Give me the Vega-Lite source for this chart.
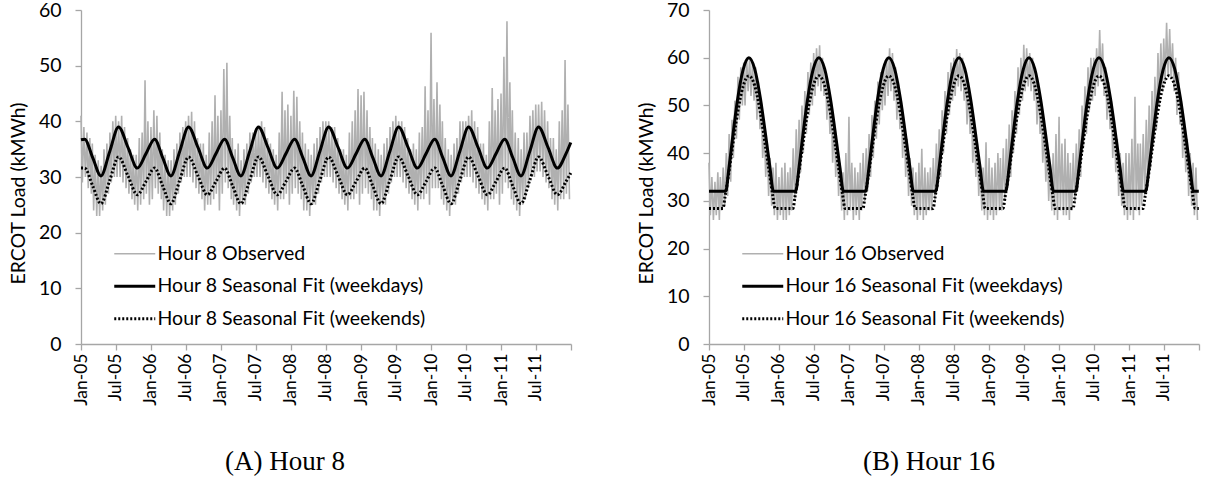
{
"$schema":"https://vega.github.io/schema/vega-lite/v6.json",
"background":"white",
"padding":{"left":8,"top":0,"right":0,"bottom":0},
"spacing":59,
"config":{
"view":{"stroke":null},
"font":"Lato",
"axis":{"grid":false,"domainColor":"#a6a6a6","tickColor":"#a6a6a6","domainWidth":1.3,"tickWidth":1.3,"labelFont":"Lato","labelFontSize":19.5,"labelColor":"#000","titleFont":"Lato","titleFontSize":19.5,"titleFontWeight":"normal","titleColor":"#000"},
"legend":{"labelFont":"Lato","labelFontSize":19.5,"labelColor":"#000","labelLimit":0},
"title":{"font":"Liberation Serif","fontSize":27,"fontWeight":"normal","color":"#000"}
},
"resolve":{"scale":{"color":"independent"}},
"datasets":{
"o8":[
{"d":"2005-01-01","v":41},{"d":"2005-01-08","v":29},{"d":"2005-01-16","v":39},{"d":"2005-01-24","v":30},
{"d":"2005-02-01","v":38},{"d":"2005-02-08","v":28},{"d":"2005-02-16","v":37},{"d":"2005-02-24","v":27},
{"d":"2005-03-01","v":36},{"d":"2005-03-08","v":24},{"d":"2005-03-16","v":34},{"d":"2005-03-24","v":23},
{"d":"2005-04-01","v":33},{"d":"2005-04-08","v":23},{"d":"2005-04-16","v":32},{"d":"2005-04-24","v":24},
{"d":"2005-05-01","v":35},{"d":"2005-05-08","v":25},{"d":"2005-05-16","v":36},{"d":"2005-05-24","v":27},
{"d":"2005-06-01","v":38},{"d":"2005-06-08","v":29},{"d":"2005-06-16","v":40},{"d":"2005-06-24","v":30},
{"d":"2005-07-01","v":41},{"d":"2005-07-08","v":30},{"d":"2005-07-16","v":40},{"d":"2005-07-24","v":30},
{"d":"2005-08-01","v":41},{"d":"2005-08-08","v":29},{"d":"2005-08-16","v":39},{"d":"2005-08-24","v":28},
{"d":"2005-09-01","v":37},{"d":"2005-09-08","v":27},{"d":"2005-09-16","v":35},{"d":"2005-09-24","v":26},
{"d":"2005-10-01","v":34},{"d":"2005-10-08","v":25},{"d":"2005-10-16","v":34},{"d":"2005-10-24","v":24},
{"d":"2005-11-01","v":37},{"d":"2005-11-08","v":25},{"d":"2005-11-16","v":38},{"d":"2005-11-24","v":26},
{"d":"2005-12-01","v":47.4},{"d":"2005-12-08","v":27},{"d":"2005-12-16","v":40},{"d":"2005-12-24","v":25},
{"d":"2006-01-01","v":39},{"d":"2006-01-08","v":26},{"d":"2006-01-16","v":42},{"d":"2006-01-24","v":28},
{"d":"2006-02-01","v":41},{"d":"2006-02-08","v":27},{"d":"2006-02-16","v":38},{"d":"2006-02-24","v":26},
{"d":"2006-03-01","v":35},{"d":"2006-03-08","v":24},{"d":"2006-03-16","v":34},{"d":"2006-03-24","v":23},
{"d":"2006-04-01","v":33},{"d":"2006-04-08","v":23},{"d":"2006-04-16","v":33},{"d":"2006-04-24","v":24},
{"d":"2006-05-01","v":35},{"d":"2006-05-08","v":25},{"d":"2006-05-16","v":36},{"d":"2006-05-24","v":27},
{"d":"2006-06-01","v":38},{"d":"2006-06-08","v":29},{"d":"2006-06-16","v":39},{"d":"2006-06-24","v":30},
{"d":"2006-07-01","v":40},{"d":"2006-07-08","v":30},{"d":"2006-07-16","v":41},{"d":"2006-07-24","v":30},
{"d":"2006-08-01","v":41.7},{"d":"2006-08-08","v":29},{"d":"2006-08-16","v":40},{"d":"2006-08-24","v":28},
{"d":"2006-09-01","v":37},{"d":"2006-09-08","v":27},{"d":"2006-09-16","v":36},{"d":"2006-09-24","v":26},
{"d":"2006-10-01","v":36},{"d":"2006-10-08","v":24},{"d":"2006-10-16","v":34},{"d":"2006-10-24","v":25},
{"d":"2006-11-01","v":38},{"d":"2006-11-08","v":25},{"d":"2006-11-16","v":40},{"d":"2006-11-24","v":26},
{"d":"2006-12-01","v":44.7},{"d":"2006-12-08","v":27},{"d":"2006-12-16","v":41},{"d":"2006-12-24","v":24},
{"d":"2007-01-01","v":42},{"d":"2007-01-08","v":27},{"d":"2007-01-16","v":49.4},{"d":"2007-01-24","v":29},
{"d":"2007-02-01","v":50.5},{"d":"2007-02-08","v":28},{"d":"2007-02-16","v":41},{"d":"2007-02-24","v":26},
{"d":"2007-03-01","v":37},{"d":"2007-03-08","v":25},{"d":"2007-03-16","v":35},{"d":"2007-03-24","v":24},
{"d":"2007-04-01","v":36},{"d":"2007-04-08","v":23},{"d":"2007-04-16","v":33},{"d":"2007-04-24","v":25},
{"d":"2007-05-01","v":35},{"d":"2007-05-08","v":25},{"d":"2007-05-16","v":36},{"d":"2007-05-24","v":27},
{"d":"2007-06-01","v":38},{"d":"2007-06-08","v":29},{"d":"2007-06-16","v":38},{"d":"2007-06-24","v":30},
{"d":"2007-07-01","v":38},{"d":"2007-07-08","v":30},{"d":"2007-07-16","v":39},{"d":"2007-07-24","v":30},
{"d":"2007-08-01","v":40},{"d":"2007-08-08","v":29},{"d":"2007-08-16","v":39},{"d":"2007-08-24","v":28},
{"d":"2007-09-01","v":37},{"d":"2007-09-08","v":27},{"d":"2007-09-16","v":36},{"d":"2007-09-24","v":26},
{"d":"2007-10-01","v":35},{"d":"2007-10-08","v":25},{"d":"2007-10-16","v":34},{"d":"2007-10-24","v":24},
{"d":"2007-11-01","v":38},{"d":"2007-11-08","v":26},{"d":"2007-11-16","v":45.3},{"d":"2007-11-24","v":26},
{"d":"2007-12-01","v":42},{"d":"2007-12-08","v":27},{"d":"2007-12-16","v":43},{"d":"2007-12-24","v":25},
{"d":"2008-01-01","v":41},{"d":"2008-01-08","v":27},{"d":"2008-01-16","v":45.5},{"d":"2008-01-24","v":28},
{"d":"2008-02-01","v":44.4},{"d":"2008-02-08","v":27},{"d":"2008-02-16","v":40},{"d":"2008-02-24","v":26},
{"d":"2008-03-01","v":38},{"d":"2008-03-08","v":24},{"d":"2008-03-16","v":36},{"d":"2008-03-24","v":24},
{"d":"2008-04-01","v":35},{"d":"2008-04-08","v":23},{"d":"2008-04-16","v":34},{"d":"2008-04-24","v":25},
{"d":"2008-05-01","v":36},{"d":"2008-05-08","v":25},{"d":"2008-05-16","v":37},{"d":"2008-05-24","v":27},
{"d":"2008-06-01","v":39},{"d":"2008-06-08","v":29},{"d":"2008-06-16","v":40},{"d":"2008-06-24","v":30},
{"d":"2008-07-01","v":40},{"d":"2008-07-08","v":30},{"d":"2008-07-16","v":40},{"d":"2008-07-24","v":30},
{"d":"2008-08-01","v":39},{"d":"2008-08-08","v":29},{"d":"2008-08-16","v":39},{"d":"2008-08-24","v":28},
{"d":"2008-09-01","v":37},{"d":"2008-09-08","v":27},{"d":"2008-09-16","v":35},{"d":"2008-09-24","v":26},
{"d":"2008-10-01","v":35},{"d":"2008-10-08","v":25},{"d":"2008-10-16","v":34},{"d":"2008-10-24","v":24},
{"d":"2008-11-01","v":38},{"d":"2008-11-08","v":26},{"d":"2008-11-16","v":40},{"d":"2008-11-24","v":26},
{"d":"2008-12-01","v":42},{"d":"2008-12-08","v":27},{"d":"2008-12-16","v":45.8},{"d":"2008-12-24","v":25},
{"d":"2009-01-01","v":44.7},{"d":"2009-01-08","v":27},{"d":"2009-01-16","v":45.3},{"d":"2009-01-24","v":28},
{"d":"2009-02-01","v":42},{"d":"2009-02-08","v":27},{"d":"2009-02-16","v":39},{"d":"2009-02-24","v":26},
{"d":"2009-03-01","v":37},{"d":"2009-03-08","v":24},{"d":"2009-03-16","v":36},{"d":"2009-03-24","v":24},
{"d":"2009-04-01","v":35},{"d":"2009-04-08","v":23},{"d":"2009-04-16","v":34},{"d":"2009-04-24","v":25},
{"d":"2009-05-01","v":36},{"d":"2009-05-08","v":25},{"d":"2009-05-16","v":37},{"d":"2009-05-24","v":27},
{"d":"2009-06-01","v":39},{"d":"2009-06-08","v":29},{"d":"2009-06-16","v":40},{"d":"2009-06-24","v":30},
{"d":"2009-07-01","v":41},{"d":"2009-07-08","v":30},{"d":"2009-07-16","v":40},{"d":"2009-07-24","v":30},
{"d":"2009-08-01","v":40},{"d":"2009-08-08","v":29},{"d":"2009-08-16","v":39},{"d":"2009-08-24","v":28},
{"d":"2009-09-01","v":37},{"d":"2009-09-08","v":27},{"d":"2009-09-16","v":35},{"d":"2009-09-24","v":26},
{"d":"2009-10-01","v":36},{"d":"2009-10-08","v":25},{"d":"2009-10-16","v":35},{"d":"2009-10-24","v":24},
{"d":"2009-11-01","v":38},{"d":"2009-11-08","v":26},{"d":"2009-11-16","v":39},{"d":"2009-11-24","v":26},
{"d":"2009-12-01","v":46.3},{"d":"2009-12-08","v":27},{"d":"2009-12-16","v":42},{"d":"2009-12-24","v":25},
{"d":"2010-01-01","v":55.9},{"d":"2010-01-08","v":28},{"d":"2010-01-16","v":44},{"d":"2010-01-24","v":28},
{"d":"2010-02-01","v":47},{"d":"2010-02-08","v":28},{"d":"2010-02-16","v":43},{"d":"2010-02-24","v":26},
{"d":"2010-03-01","v":40},{"d":"2010-03-08","v":25},{"d":"2010-03-16","v":37},{"d":"2010-03-24","v":24},
{"d":"2010-04-01","v":35},{"d":"2010-04-08","v":23},{"d":"2010-04-16","v":34},{"d":"2010-04-24","v":25},
{"d":"2010-05-01","v":36},{"d":"2010-05-08","v":25},{"d":"2010-05-16","v":37},{"d":"2010-05-24","v":27},
{"d":"2010-06-01","v":40},{"d":"2010-06-08","v":29},{"d":"2010-06-16","v":40},{"d":"2010-06-24","v":30},
{"d":"2010-07-01","v":40},{"d":"2010-07-08","v":30},{"d":"2010-07-16","v":41},{"d":"2010-07-24","v":30},
{"d":"2010-08-01","v":42},{"d":"2010-08-08","v":29},{"d":"2010-08-16","v":40},{"d":"2010-08-24","v":28},
{"d":"2010-09-01","v":39},{"d":"2010-09-08","v":27},{"d":"2010-09-16","v":36},{"d":"2010-09-24","v":26},
{"d":"2010-10-01","v":36},{"d":"2010-10-08","v":25},{"d":"2010-10-16","v":34},{"d":"2010-10-24","v":24},
{"d":"2010-11-01","v":40},{"d":"2010-11-08","v":26},{"d":"2010-11-16","v":46},{"d":"2010-11-24","v":26},
{"d":"2010-12-01","v":42},{"d":"2010-12-08","v":27},{"d":"2010-12-16","v":44},{"d":"2010-12-24","v":25},
{"d":"2011-01-01","v":45},{"d":"2011-01-08","v":27},{"d":"2011-01-16","v":51.6},{"d":"2011-01-24","v":29},
{"d":"2011-02-01","v":58},{"d":"2011-02-08","v":28},{"d":"2011-02-16","v":47},{"d":"2011-02-24","v":26},
{"d":"2011-03-01","v":42},{"d":"2011-03-08","v":25},{"d":"2011-03-16","v":38},{"d":"2011-03-24","v":24},
{"d":"2011-04-01","v":37},{"d":"2011-04-08","v":23},{"d":"2011-04-16","v":35},{"d":"2011-04-24","v":25},
{"d":"2011-05-01","v":38},{"d":"2011-05-08","v":26},{"d":"2011-05-16","v":38},{"d":"2011-05-24","v":28},
{"d":"2011-06-01","v":41},{"d":"2011-06-08","v":30},{"d":"2011-06-16","v":42},{"d":"2011-06-24","v":30},
{"d":"2011-07-01","v":43},{"d":"2011-07-08","v":31},{"d":"2011-07-16","v":43},{"d":"2011-07-24","v":31},
{"d":"2011-08-01","v":43.5},{"d":"2011-08-08","v":30},{"d":"2011-08-16","v":42},{"d":"2011-08-24","v":29},
{"d":"2011-09-01","v":40},{"d":"2011-09-08","v":28},{"d":"2011-09-16","v":37},{"d":"2011-09-24","v":26},
{"d":"2011-10-01","v":37},{"d":"2011-10-08","v":25},{"d":"2011-10-16","v":35},{"d":"2011-10-24","v":24},
{"d":"2011-11-01","v":40},{"d":"2011-11-08","v":26},{"d":"2011-11-16","v":42},{"d":"2011-11-24","v":26},
{"d":"2011-12-01","v":51},{"d":"2011-12-08","v":27},{"d":"2011-12-16","v":43},{"d":"2011-12-24","v":26}
],
"w8":[
{"d":"2005-01-01","v":36.7},
{"d":"2005-01-20","v":36.8},{"d":"2005-03-03","v":33.5},{"d":"2005-04-15","v":30.2},{"d":"2005-05-31","v":34.6},{"d":"2005-07-16","v":39},{"d":"2005-09-03","v":35.3},{"d":"2005-10-22","v":31.6},{"d":"2005-12-06","v":34.2},
{"d":"2006-01-20","v":36.8},{"d":"2006-03-03","v":33.5},{"d":"2006-04-15","v":30.2},{"d":"2006-05-31","v":34.6},{"d":"2006-07-16","v":39},{"d":"2006-09-03","v":35.3},{"d":"2006-10-22","v":31.6},{"d":"2006-12-06","v":34.2},
{"d":"2007-01-20","v":36.8},{"d":"2007-03-03","v":33.5},{"d":"2007-04-15","v":30.2},{"d":"2007-05-31","v":34.6},{"d":"2007-07-16","v":39},{"d":"2007-09-03","v":35.3},{"d":"2007-10-22","v":31.6},{"d":"2007-12-06","v":34.2},
{"d":"2008-01-20","v":36.8},{"d":"2008-03-03","v":33.5},{"d":"2008-04-15","v":30.2},{"d":"2008-05-31","v":34.6},{"d":"2008-07-16","v":39},{"d":"2008-09-03","v":35.3},{"d":"2008-10-22","v":31.6},{"d":"2008-12-06","v":34.2},
{"d":"2009-01-20","v":36.8},{"d":"2009-03-03","v":33.5},{"d":"2009-04-15","v":30.2},{"d":"2009-05-31","v":34.6},{"d":"2009-07-16","v":39},{"d":"2009-09-03","v":35.3},{"d":"2009-10-22","v":31.6},{"d":"2009-12-06","v":34.2},
{"d":"2010-01-20","v":36.8},{"d":"2010-03-03","v":33.5},{"d":"2010-04-15","v":30.2},{"d":"2010-05-31","v":34.6},{"d":"2010-07-16","v":39},{"d":"2010-09-03","v":35.3},{"d":"2010-10-22","v":31.6},{"d":"2010-12-06","v":34.2},
{"d":"2011-01-20","v":36.8},{"d":"2011-03-03","v":33.5},{"d":"2011-04-15","v":30.2},{"d":"2011-05-31","v":34.6},{"d":"2011-07-16","v":39},{"d":"2011-09-03","v":35.3},{"d":"2011-10-22","v":31.6},{"d":"2011-12-06","v":34.2},
{"d":"2011-12-31","v":36.2}
],
"e8":[
{"d":"2005-01-01","v":31.6},
{"d":"2005-01-20","v":31.6},{"d":"2005-03-03","v":28.4},{"d":"2005-04-15","v":25.2},{"d":"2005-05-31","v":29.4},{"d":"2005-07-16","v":33.6},{"d":"2005-09-03","v":30.2},{"d":"2005-10-22","v":26.8},{"d":"2005-12-06","v":29.2},
{"d":"2006-01-20","v":31.6},{"d":"2006-03-03","v":28.4},{"d":"2006-04-15","v":25.2},{"d":"2006-05-31","v":29.4},{"d":"2006-07-16","v":33.6},{"d":"2006-09-03","v":30.2},{"d":"2006-10-22","v":26.8},{"d":"2006-12-06","v":29.2},
{"d":"2007-01-20","v":31.6},{"d":"2007-03-03","v":28.4},{"d":"2007-04-15","v":25.2},{"d":"2007-05-31","v":29.4},{"d":"2007-07-16","v":33.6},{"d":"2007-09-03","v":30.2},{"d":"2007-10-22","v":26.8},{"d":"2007-12-06","v":29.2},
{"d":"2008-01-20","v":31.6},{"d":"2008-03-03","v":28.4},{"d":"2008-04-15","v":25.2},{"d":"2008-05-31","v":29.4},{"d":"2008-07-16","v":33.6},{"d":"2008-09-03","v":30.2},{"d":"2008-10-22","v":26.8},{"d":"2008-12-06","v":29.2},
{"d":"2009-01-20","v":31.6},{"d":"2009-03-03","v":28.4},{"d":"2009-04-15","v":25.2},{"d":"2009-05-31","v":29.4},{"d":"2009-07-16","v":33.6},{"d":"2009-09-03","v":30.2},{"d":"2009-10-22","v":26.8},{"d":"2009-12-06","v":29.2},
{"d":"2010-01-20","v":31.6},{"d":"2010-03-03","v":28.4},{"d":"2010-04-15","v":25.2},{"d":"2010-05-31","v":29.4},{"d":"2010-07-16","v":33.6},{"d":"2010-09-03","v":30.2},{"d":"2010-10-22","v":26.8},{"d":"2010-12-06","v":29.2},
{"d":"2011-01-20","v":31.6},{"d":"2011-03-03","v":28.4},{"d":"2011-04-15","v":25.2},{"d":"2011-05-31","v":29.4},{"d":"2011-07-16","v":33.6},{"d":"2011-09-03","v":30.2},{"d":"2011-10-22","v":26.8},{"d":"2011-12-06","v":29.2},
{"d":"2011-12-31","v":30.7}
],
"o16":[
{"d":"2005-01-01","v":38},{"d":"2005-01-08","v":27},{"d":"2005-01-16","v":35},{"d":"2005-01-24","v":26},
{"d":"2005-02-01","v":34},{"d":"2005-02-08","v":27},{"d":"2005-02-16","v":36},{"d":"2005-02-24","v":26},
{"d":"2005-03-01","v":35},{"d":"2005-03-08","v":28},{"d":"2005-03-16","v":37},{"d":"2005-03-24","v":29},
{"d":"2005-04-01","v":40},{"d":"2005-04-08","v":31},{"d":"2005-04-16","v":44},{"d":"2005-04-24","v":34},
{"d":"2005-05-01","v":47},{"d":"2005-05-08","v":39},{"d":"2005-05-16","v":51},{"d":"2005-05-24","v":43},
{"d":"2005-06-01","v":56},{"d":"2005-06-08","v":47},{"d":"2005-06-16","v":58},{"d":"2005-06-24","v":50},
{"d":"2005-07-01","v":59},{"d":"2005-07-08","v":50},{"d":"2005-07-16","v":60},{"d":"2005-07-24","v":53},
{"d":"2005-08-01","v":60},{"d":"2005-08-08","v":52},{"d":"2005-08-16","v":59},{"d":"2005-08-24","v":51},
{"d":"2005-09-01","v":58},{"d":"2005-09-08","v":47},{"d":"2005-09-16","v":55},{"d":"2005-09-24","v":45},
{"d":"2005-10-01","v":50},{"d":"2005-10-08","v":39},{"d":"2005-10-16","v":45},{"d":"2005-10-24","v":35},
{"d":"2005-11-01","v":42},{"d":"2005-11-08","v":31},{"d":"2005-11-16","v":39},{"d":"2005-11-24","v":29},
{"d":"2005-12-01","v":37},{"d":"2005-12-08","v":27},{"d":"2005-12-16","v":38},{"d":"2005-12-24","v":26},
{"d":"2006-01-01","v":35},{"d":"2006-01-08","v":27},{"d":"2006-01-16","v":37},{"d":"2006-01-24","v":26},
{"d":"2006-02-01","v":38},{"d":"2006-02-08","v":26},{"d":"2006-02-16","v":36},{"d":"2006-02-24","v":27},
{"d":"2006-03-01","v":37},{"d":"2006-03-08","v":28},{"d":"2006-03-16","v":41},{"d":"2006-03-24","v":30},
{"d":"2006-04-01","v":45},{"d":"2006-04-08","v":33},{"d":"2006-04-16","v":47},{"d":"2006-04-24","v":36},
{"d":"2006-05-01","v":50},{"d":"2006-05-08","v":40},{"d":"2006-05-16","v":53},{"d":"2006-05-24","v":44},
{"d":"2006-06-01","v":57},{"d":"2006-06-08","v":48},{"d":"2006-06-16","v":59},{"d":"2006-06-24","v":50},
{"d":"2006-07-01","v":61},{"d":"2006-07-08","v":52},{"d":"2006-07-16","v":62},{"d":"2006-07-24","v":54},
{"d":"2006-08-01","v":62.6},{"d":"2006-08-08","v":53},{"d":"2006-08-16","v":60},{"d":"2006-08-24","v":52},
{"d":"2006-09-01","v":57},{"d":"2006-09-08","v":47},{"d":"2006-09-16","v":54},{"d":"2006-09-24","v":44},
{"d":"2006-10-01","v":50},{"d":"2006-10-08","v":38},{"d":"2006-10-16","v":47},{"d":"2006-10-24","v":35},
{"d":"2006-11-01","v":42},{"d":"2006-11-08","v":31},{"d":"2006-11-16","v":38},{"d":"2006-11-24","v":28},
{"d":"2006-12-01","v":36},{"d":"2006-12-08","v":26},{"d":"2006-12-16","v":40},{"d":"2006-12-24","v":27},
{"d":"2007-01-01","v":47.6},{"d":"2007-01-08","v":28},{"d":"2007-01-16","v":38},{"d":"2007-01-24","v":26},
{"d":"2007-02-01","v":37},{"d":"2007-02-08","v":27},{"d":"2007-02-16","v":36},{"d":"2007-02-24","v":26},
{"d":"2007-03-01","v":38},{"d":"2007-03-08","v":28},{"d":"2007-03-16","v":40},{"d":"2007-03-24","v":30},
{"d":"2007-04-01","v":41},{"d":"2007-04-08","v":32},{"d":"2007-04-16","v":44},{"d":"2007-04-24","v":35},
{"d":"2007-05-01","v":48},{"d":"2007-05-08","v":39},{"d":"2007-05-16","v":51},{"d":"2007-05-24","v":43},
{"d":"2007-06-01","v":55},{"d":"2007-06-08","v":46},{"d":"2007-06-16","v":57},{"d":"2007-06-24","v":49},
{"d":"2007-07-01","v":58},{"d":"2007-07-08","v":50},{"d":"2007-07-16","v":60},{"d":"2007-07-24","v":52},
{"d":"2007-08-01","v":62},{"d":"2007-08-08","v":53},{"d":"2007-08-16","v":61},{"d":"2007-08-24","v":51},
{"d":"2007-09-01","v":58},{"d":"2007-09-08","v":47},{"d":"2007-09-16","v":55},{"d":"2007-09-24","v":45},
{"d":"2007-10-01","v":51},{"d":"2007-10-08","v":39},{"d":"2007-10-16","v":47},{"d":"2007-10-24","v":35},
{"d":"2007-11-01","v":43},{"d":"2007-11-08","v":31},{"d":"2007-11-16","v":39},{"d":"2007-11-24","v":29},
{"d":"2007-12-01","v":37},{"d":"2007-12-08","v":27},{"d":"2007-12-16","v":36},{"d":"2007-12-24","v":26},
{"d":"2008-01-01","v":38},{"d":"2008-01-08","v":27},{"d":"2008-01-16","v":40.9},{"d":"2008-01-24","v":26},
{"d":"2008-02-01","v":37},{"d":"2008-02-08","v":27},{"d":"2008-02-16","v":36},{"d":"2008-02-24","v":28},
{"d":"2008-03-01","v":37},{"d":"2008-03-08","v":28},{"d":"2008-03-16","v":39},{"d":"2008-03-24","v":30},
{"d":"2008-04-01","v":42},{"d":"2008-04-08","v":33},{"d":"2008-04-16","v":45},{"d":"2008-04-24","v":35},
{"d":"2008-05-01","v":49},{"d":"2008-05-08","v":40},{"d":"2008-05-16","v":53},{"d":"2008-05-24","v":44},
{"d":"2008-06-01","v":57},{"d":"2008-06-08","v":48},{"d":"2008-06-16","v":59},{"d":"2008-06-24","v":51},
{"d":"2008-07-01","v":60},{"d":"2008-07-08","v":52},{"d":"2008-07-16","v":61.8},{"d":"2008-07-24","v":54},
{"d":"2008-08-01","v":61},{"d":"2008-08-08","v":53},{"d":"2008-08-16","v":60},{"d":"2008-08-24","v":51},
{"d":"2008-09-01","v":56},{"d":"2008-09-08","v":46},{"d":"2008-09-16","v":54},{"d":"2008-09-24","v":44},
{"d":"2008-10-01","v":50},{"d":"2008-10-08","v":38},{"d":"2008-10-16","v":46},{"d":"2008-10-24","v":35},
{"d":"2008-11-01","v":42},{"d":"2008-11-08","v":31},{"d":"2008-11-16","v":38},{"d":"2008-11-24","v":28},
{"d":"2008-12-01","v":37},{"d":"2008-12-08","v":27},{"d":"2008-12-16","v":42.3},{"d":"2008-12-24","v":26},
{"d":"2009-01-01","v":39},{"d":"2009-01-08","v":27},{"d":"2009-01-16","v":37},{"d":"2009-01-24","v":26},
{"d":"2009-02-01","v":38},{"d":"2009-02-08","v":27},{"d":"2009-02-16","v":40},{"d":"2009-02-24","v":28},
{"d":"2009-03-01","v":39},{"d":"2009-03-08","v":28},{"d":"2009-03-16","v":41},{"d":"2009-03-24","v":30},
{"d":"2009-04-01","v":43},{"d":"2009-04-08","v":33},{"d":"2009-04-16","v":46},{"d":"2009-04-24","v":35},
{"d":"2009-05-01","v":49},{"d":"2009-05-08","v":40},{"d":"2009-05-16","v":53},{"d":"2009-05-24","v":44},
{"d":"2009-06-01","v":58},{"d":"2009-06-08","v":48},{"d":"2009-06-16","v":60},{"d":"2009-06-24","v":51},
{"d":"2009-07-01","v":62.7},{"d":"2009-07-08","v":53},{"d":"2009-07-16","v":62},{"d":"2009-07-24","v":54},
{"d":"2009-08-01","v":61},{"d":"2009-08-08","v":53},{"d":"2009-08-16","v":60},{"d":"2009-08-24","v":51},
{"d":"2009-09-01","v":57},{"d":"2009-09-08","v":46},{"d":"2009-09-16","v":54},{"d":"2009-09-24","v":44},
{"d":"2009-10-01","v":49},{"d":"2009-10-08","v":38},{"d":"2009-10-16","v":45},{"d":"2009-10-24","v":34},
{"d":"2009-11-01","v":41},{"d":"2009-11-08","v":30},{"d":"2009-11-16","v":38},{"d":"2009-11-24","v":28},
{"d":"2009-12-01","v":40},{"d":"2009-12-08","v":27},{"d":"2009-12-16","v":44},{"d":"2009-12-24","v":26},
{"d":"2010-01-01","v":47.6},{"d":"2010-01-08","v":28},{"d":"2010-01-16","v":42},{"d":"2010-01-24","v":27},
{"d":"2010-02-01","v":43},{"d":"2010-02-08","v":27},{"d":"2010-02-16","v":40},{"d":"2010-02-24","v":26},
{"d":"2010-03-01","v":38},{"d":"2010-03-08","v":28},{"d":"2010-03-16","v":40},{"d":"2010-03-24","v":30},
{"d":"2010-04-01","v":42},{"d":"2010-04-08","v":32},{"d":"2010-04-16","v":45},{"d":"2010-04-24","v":35},
{"d":"2010-05-01","v":50},{"d":"2010-05-08","v":41},{"d":"2010-05-16","v":54},{"d":"2010-05-24","v":44},
{"d":"2010-06-01","v":58},{"d":"2010-06-08","v":49},{"d":"2010-06-16","v":60},{"d":"2010-06-24","v":51},
{"d":"2010-07-01","v":60},{"d":"2010-07-08","v":52},{"d":"2010-07-16","v":62},{"d":"2010-07-24","v":54},
{"d":"2010-08-01","v":65.8},{"d":"2010-08-08","v":55},{"d":"2010-08-16","v":63},{"d":"2010-08-24","v":52},
{"d":"2010-09-01","v":58},{"d":"2010-09-08","v":47},{"d":"2010-09-16","v":55},{"d":"2010-09-24","v":45},
{"d":"2010-10-01","v":51},{"d":"2010-10-08","v":39},{"d":"2010-10-16","v":47},{"d":"2010-10-24","v":36},
{"d":"2010-11-01","v":43},{"d":"2010-11-08","v":31},{"d":"2010-11-16","v":40},{"d":"2010-11-24","v":29},
{"d":"2010-12-01","v":38},{"d":"2010-12-08","v":27},{"d":"2010-12-16","v":40},{"d":"2010-12-24","v":26},
{"d":"2011-01-01","v":40},{"d":"2011-01-08","v":27},{"d":"2011-01-16","v":43},{"d":"2011-01-24","v":26},
{"d":"2011-02-01","v":51.8},{"d":"2011-02-08","v":28},{"d":"2011-02-16","v":42},{"d":"2011-02-24","v":27},
{"d":"2011-03-01","v":42},{"d":"2011-03-08","v":29},{"d":"2011-03-16","v":44},{"d":"2011-03-24","v":31},
{"d":"2011-04-01","v":47},{"d":"2011-04-08","v":34},{"d":"2011-04-16","v":50},{"d":"2011-04-24","v":37},
{"d":"2011-05-01","v":53},{"d":"2011-05-08","v":42},{"d":"2011-05-16","v":56},{"d":"2011-05-24","v":45},
{"d":"2011-06-01","v":61},{"d":"2011-06-08","v":50},{"d":"2011-06-16","v":63},{"d":"2011-06-24","v":53},
{"d":"2011-07-01","v":64},{"d":"2011-07-08","v":55},{"d":"2011-07-16","v":67.3},{"d":"2011-07-24","v":56},
{"d":"2011-08-01","v":66},{"d":"2011-08-08","v":56},{"d":"2011-08-16","v":63},{"d":"2011-08-24","v":53},
{"d":"2011-09-01","v":60},{"d":"2011-09-08","v":48},{"d":"2011-09-16","v":57},{"d":"2011-09-24","v":46},
{"d":"2011-10-01","v":51},{"d":"2011-10-08","v":39},{"d":"2011-10-16","v":47},{"d":"2011-10-24","v":36},
{"d":"2011-11-01","v":43},{"d":"2011-11-08","v":31},{"d":"2011-11-16","v":40},{"d":"2011-11-24","v":29},
{"d":"2011-12-01","v":38},{"d":"2011-12-08","v":27},{"d":"2011-12-16","v":37},{"d":"2011-12-24","v":26}
],
"w16":[
{"d":"2005-01-01","v":32},
{"d":"2005-03-29","v":32},{"d":"2005-04-14","v":36.5},{"d":"2005-04-29","v":41.5},{"d":"2005-05-29","v":51},{"d":"2005-06-28","v":57.5},{"d":"2005-07-28","v":60},{"d":"2005-08-27","v":57.7},{"d":"2005-09-26","v":51.5},{"d":"2005-10-26","v":43},{"d":"2005-11-15","v":37},{"d":"2005-12-03","v":32},
{"d":"2006-03-29","v":32},{"d":"2006-04-14","v":36.5},{"d":"2006-04-29","v":41.5},{"d":"2006-05-29","v":51},{"d":"2006-06-28","v":57.5},{"d":"2006-07-28","v":60},{"d":"2006-08-27","v":57.7},{"d":"2006-09-26","v":51.5},{"d":"2006-10-26","v":43},{"d":"2006-11-15","v":37},{"d":"2006-12-03","v":32},
{"d":"2007-03-29","v":32},{"d":"2007-04-14","v":36.5},{"d":"2007-04-29","v":41.5},{"d":"2007-05-29","v":51},{"d":"2007-06-28","v":57.5},{"d":"2007-07-28","v":60},{"d":"2007-08-27","v":57.7},{"d":"2007-09-26","v":51.5},{"d":"2007-10-26","v":43},{"d":"2007-11-15","v":37},{"d":"2007-12-03","v":32},
{"d":"2008-03-29","v":32},{"d":"2008-04-14","v":36.5},{"d":"2008-04-29","v":41.5},{"d":"2008-05-29","v":51},{"d":"2008-06-28","v":57.5},{"d":"2008-07-28","v":60},{"d":"2008-08-27","v":57.7},{"d":"2008-09-26","v":51.5},{"d":"2008-10-26","v":43},{"d":"2008-11-15","v":37},{"d":"2008-12-03","v":32},
{"d":"2009-03-29","v":32},{"d":"2009-04-14","v":36.5},{"d":"2009-04-29","v":41.5},{"d":"2009-05-29","v":51},{"d":"2009-06-28","v":57.5},{"d":"2009-07-28","v":60},{"d":"2009-08-27","v":57.7},{"d":"2009-09-26","v":51.5},{"d":"2009-10-26","v":43},{"d":"2009-11-15","v":37},{"d":"2009-12-03","v":32},
{"d":"2010-03-29","v":32},{"d":"2010-04-14","v":36.5},{"d":"2010-04-29","v":41.5},{"d":"2010-05-29","v":51},{"d":"2010-06-28","v":57.5},{"d":"2010-07-28","v":60},{"d":"2010-08-27","v":57.7},{"d":"2010-09-26","v":51.5},{"d":"2010-10-26","v":43},{"d":"2010-11-15","v":37},{"d":"2010-12-03","v":32},
{"d":"2011-03-29","v":32},{"d":"2011-04-14","v":36.5},{"d":"2011-04-29","v":41.5},{"d":"2011-05-29","v":51},{"d":"2011-06-28","v":57.5},{"d":"2011-07-28","v":60},{"d":"2011-08-27","v":57.7},{"d":"2011-09-26","v":51.5},{"d":"2011-10-26","v":43},{"d":"2011-11-15","v":37},{"d":"2011-12-03","v":32},
{"d":"2011-12-31","v":32}
],
"e16":[
{"d":"2005-01-01","v":28.4},
{"d":"2005-03-15","v":28.4},{"d":"2005-03-25","v":30.7},{"d":"2005-04-09","v":34.4},{"d":"2005-04-29","v":40},{"d":"2005-05-29","v":48.2},{"d":"2005-06-28","v":54},{"d":"2005-07-28","v":56.2},{"d":"2005-08-27","v":54.2},{"d":"2005-09-26","v":48.5},{"d":"2005-10-26","v":40.5},{"d":"2005-11-15","v":35},{"d":"2005-11-30","v":31},{"d":"2005-12-12","v":28.4},
{"d":"2006-03-15","v":28.4},{"d":"2006-03-25","v":30.7},{"d":"2006-04-09","v":34.4},{"d":"2006-04-29","v":40},{"d":"2006-05-29","v":48.2},{"d":"2006-06-28","v":54},{"d":"2006-07-28","v":56.2},{"d":"2006-08-27","v":54.2},{"d":"2006-09-26","v":48.5},{"d":"2006-10-26","v":40.5},{"d":"2006-11-15","v":35},{"d":"2006-11-30","v":31},{"d":"2006-12-12","v":28.4},
{"d":"2007-03-15","v":28.4},{"d":"2007-03-25","v":30.7},{"d":"2007-04-09","v":34.4},{"d":"2007-04-29","v":40},{"d":"2007-05-29","v":48.2},{"d":"2007-06-28","v":54},{"d":"2007-07-28","v":56.2},{"d":"2007-08-27","v":54.2},{"d":"2007-09-26","v":48.5},{"d":"2007-10-26","v":40.5},{"d":"2007-11-15","v":35},{"d":"2007-11-30","v":31},{"d":"2007-12-12","v":28.4},
{"d":"2008-03-15","v":28.4},{"d":"2008-03-25","v":30.7},{"d":"2008-04-09","v":34.4},{"d":"2008-04-29","v":40},{"d":"2008-05-29","v":48.2},{"d":"2008-06-28","v":54},{"d":"2008-07-28","v":56.2},{"d":"2008-08-27","v":54.2},{"d":"2008-09-26","v":48.5},{"d":"2008-10-26","v":40.5},{"d":"2008-11-15","v":35},{"d":"2008-11-30","v":31},{"d":"2008-12-12","v":28.4},
{"d":"2009-03-15","v":28.4},{"d":"2009-03-25","v":30.7},{"d":"2009-04-09","v":34.4},{"d":"2009-04-29","v":40},{"d":"2009-05-29","v":48.2},{"d":"2009-06-28","v":54},{"d":"2009-07-28","v":56.2},{"d":"2009-08-27","v":54.2},{"d":"2009-09-26","v":48.5},{"d":"2009-10-26","v":40.5},{"d":"2009-11-15","v":35},{"d":"2009-11-30","v":31},{"d":"2009-12-12","v":28.4},
{"d":"2010-03-15","v":28.4},{"d":"2010-03-25","v":30.7},{"d":"2010-04-09","v":34.4},{"d":"2010-04-29","v":40},{"d":"2010-05-29","v":48.2},{"d":"2010-06-28","v":54},{"d":"2010-07-28","v":56.2},{"d":"2010-08-27","v":54.2},{"d":"2010-09-26","v":48.5},{"d":"2010-10-26","v":40.5},{"d":"2010-11-15","v":35},{"d":"2010-11-30","v":31},{"d":"2010-12-12","v":28.4},
{"d":"2011-03-15","v":28.4},{"d":"2011-03-25","v":30.7},{"d":"2011-04-09","v":34.4},{"d":"2011-04-29","v":40},{"d":"2011-05-29","v":48.2},{"d":"2011-06-28","v":54},{"d":"2011-07-28","v":56.2},{"d":"2011-08-27","v":54.2},{"d":"2011-09-26","v":48.5},{"d":"2011-10-26","v":40.5},{"d":"2011-11-15","v":35},{"d":"2011-11-30","v":31},{"d":"2011-12-12","v":28.4},
{"d":"2011-12-31","v":28.4}
]
},
"hconcat":[
{
"width":490,"height":334,
"title":{"text":"(A) Hour 8","orient":"bottom","anchor":"middle","dx":-41,"offset":44},
"encoding":{
"x":{"field":"d","type":"temporal","scale":{"type":"utc","domain":[{"year":2005,"month":1,"date":1,"utc":true},{"year":2012,"month":1,"date":1,"utc":true}]},"axis":{"title":null,"format":"%b-%y","labelAngle":-90,"tickCount":{"interval":"month","step":6},"labelExpr":"utcyear(datum.value) >= 2012 ? '' : datum.label","tickSize":6,"labelPadding":3,"labelFontSize":17.5}},
"y":{"field":"v","type":"quantitative","scale":{"domain":[0,60]},"axis":{"title":"ERCOT Load (kMWh)","values":[0,10,20,30,40,50,60],"tickSize":6,"labelPadding":14,"titleY":183,"titlePadding":10}}
},
"layer":[
{"data":{"name":"o8"},"mark":{"type":"line","interpolate":"linear","strokeWidth":1.6},"encoding":{
"color":{"datum":"Hour 8 Observed","scale":{"domain":["Hour 8 Observed","Hour 8 Seasonal Fit (weekdays)","Hour 8 Seasonal Fit (weekends)"],"range":["#b0b0b0","#000000","#000000"]},"legend":{"title":null,"orient":"none","legendX":44,"legendY":234,"symbolType":"stroke","symbolSize":1680,"rowPadding":11.5,"labelOffset":13,"padding":0,"encode":{"symbols":{"update":{"strokeDash":{"signal":"datum.value === 'Hour 8 Seasonal Fit (weekends)' ? [2,2] : [1,0]"},"strokeWidth":{"signal":"datum.value === 'Hour 8 Observed' ? 1.4 : 3"}}}}}}
}},
{"data":{"name":"w8"},"mark":{"type":"line","interpolate":"monotone","strokeWidth":3},"encoding":{
"color":{"datum":"Hour 8 Seasonal Fit (weekdays)"}
}},
{"data":{"name":"e8"},"mark":{"type":"line","interpolate":"monotone","strokeWidth":3,"strokeDash":[2,2]},"encoding":{
"color":{"datum":"Hour 8 Seasonal Fit (weekends)"}
}}
]
},
{
"width":490,"height":334,
"title":{"text":"(B) Hour 16","orient":"bottom","anchor":"middle","dx":-25,"offset":44},
"encoding":{
"x":{"field":"d","type":"temporal","scale":{"type":"utc","domain":[{"year":2005,"month":1,"date":1,"utc":true},{"year":2012,"month":1,"date":1,"utc":true}]},"axis":{"title":null,"format":"%b-%y","labelAngle":-90,"tickCount":{"interval":"month","step":6},"labelExpr":"utcyear(datum.value) >= 2012 ? '' : datum.label","tickSize":6,"labelPadding":3,"labelFontSize":17.5}},
"y":{"field":"v","type":"quantitative","scale":{"domain":[0,70]},"axis":{"title":"ERCOT Load (kMWh)","values":[0,10,20,30,40,50,60,70],"tickSize":6,"labelPadding":14,"titleY":183,"titlePadding":10}}
},
"layer":[
{"data":{"name":"o16"},"mark":{"type":"line","interpolate":"linear","strokeWidth":1.6},"encoding":{
"color":{"datum":"Hour 16 Observed","scale":{"domain":["Hour 16 Observed","Hour 16 Seasonal Fit (weekdays)","Hour 16 Seasonal Fit (weekends)"],"range":["#b0b0b0","#000000","#000000"]},"legend":{"title":null,"orient":"none","legendX":44,"legendY":234,"symbolType":"stroke","symbolSize":1680,"rowPadding":11.5,"labelOffset":13,"padding":0,"encode":{"symbols":{"update":{"strokeDash":{"signal":"datum.value === 'Hour 16 Seasonal Fit (weekends)' ? [2,2] : [1,0]"},"strokeWidth":{"signal":"datum.value === 'Hour 16 Observed' ? 1.4 : 3"}}}}}}
}},
{"data":{"name":"w16"},"mark":{"type":"line","interpolate":"monotone","strokeWidth":3},"encoding":{
"color":{"datum":"Hour 16 Seasonal Fit (weekdays)"}
}},
{"data":{"name":"e16"},"mark":{"type":"line","interpolate":"monotone","strokeWidth":3,"strokeDash":[2,2]},"encoding":{
"color":{"datum":"Hour 16 Seasonal Fit (weekends)"}
}}
]
}
]
}
